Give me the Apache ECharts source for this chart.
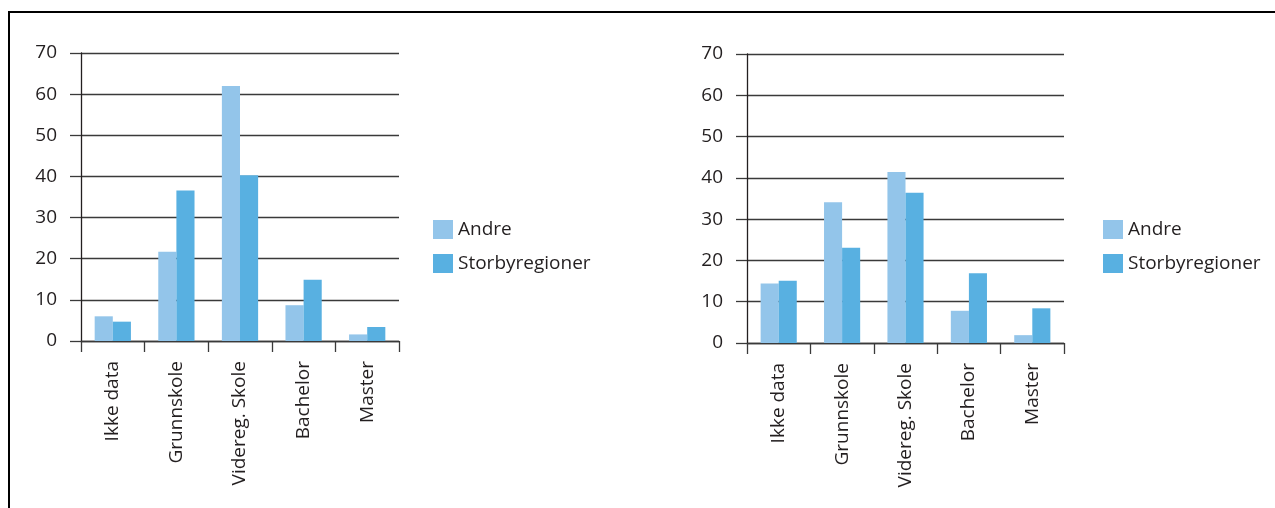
<!DOCTYPE html>
<html>
<head>
<meta charset="utf-8">
<script src="https://cdn.jsdelivr.net/npm/echarts@6/dist/echarts.min.js"></script>
<style>
html,body{margin:0;padding:0;background:#fff;}
#c{width:1275px;height:508px;}
</style>
</head>
<body>
<div id="c"></div>
<script>
const categories = ['Ikke data', 'Grunnskole', 'Videreg. Skole', 'Bachelor', 'Master'];
const seriesNames = ['Andre', 'Storbyregioner'];
const leftAndre = [6.0, 21.7, 62.0, 8.7, 1.6];
const leftStorby = [4.7, 36.6, 40.3, 14.9, 3.4];
const rightAndre = [14.4, 34.1, 41.4, 7.8, 1.9];
const rightStorby = [15.1, 23.1, 36.4, 16.9, 8.4];
const yTicks = { min: 0, max: 70, interval: 10 };

const colors = ['#93c5ea', '#58b0e1'];
const font = '"Open Sans", sans-serif';
const textColor = '#231f20';

function yAxis(gi) {
  return {
    type: 'value', gridIndex: gi, min: yTicks.min, max: yTicks.max, interval: yTicks.interval,
    axisLine: { show: true, lineStyle: { color: '#231f20', width: 1.3 } },
    axisTick: { show: true, length: 11, lineStyle: { color: '#3a3a3a', width: 1.3 } },
    splitLine: { show: true, lineStyle: { color: '#3a3a3a', width: 1.3 } },
    axisLabel: { color: textColor, fontSize: 19, fontFamily: font, margin: 24 }
  };
}
function xAxis(gi) {
  return {
    type: 'category', gridIndex: gi, data: categories,
    axisLine: { show: true, lineStyle: { color: '#3a3a3a', width: 1.3 } },
    axisTick: { show: true, length: 11, alignWithLabel: false, lineStyle: { color: '#3a3a3a', width: 1.3 } },
    axisLabel: { rotate: 90, color: textColor, fontSize: 19, fontFamily: font, margin: 20, interval: 0 }
  };
}
function bar(name, data, idx, gi) {
  return {
    type: 'bar', name: name, data: data, xAxisIndex: gi, yAxisIndex: gi,
    barGap: '0%', barCategoryGap: '43%',
    itemStyle: { color: colors[idx] }
  };
}
function legend(left) {
  return {
    orient: 'vertical', left: left, top: 215, itemWidth: 20, itemHeight: 19, itemGap: 15,
    icon: 'rect',
    data: seriesNames,
    textStyle: { color: textColor, fontSize: 19, fontFamily: font }
  };
}

const chart = echarts.init(document.getElementById('c'));
chart.setOption({
  backgroundColor: '#fff',
  animation: false,
  grid: [
    { left: 81, right: 876, top: 53, bottom: 167 },
    { left: 747, right: 211, top: 54, bottom: 165 }
  ],
  xAxis: [xAxis(0), xAxis(1)],
  yAxis: [yAxis(0), yAxis(1)],
  legend: [legend(428), legend(1098)],
  series: [
    bar(seriesNames[0], leftAndre, 0, 0),
    bar(seriesNames[1], leftStorby, 1, 0),
    bar(seriesNames[0], rightAndre, 0, 1),
    bar(seriesNames[1], rightStorby, 1, 1)
  ],
  graphic: [
    { type: 'line', shape: { x1: 8, y1: 12, x2: 1275, y2: 12 }, style: { stroke: '#000', lineWidth: 2 } },
    { type: 'line', shape: { x1: 9, y1: 11, x2: 9, y2: 508 }, style: { stroke: '#000', lineWidth: 2 } }
  ]
});
</script>
</body>
</html>
